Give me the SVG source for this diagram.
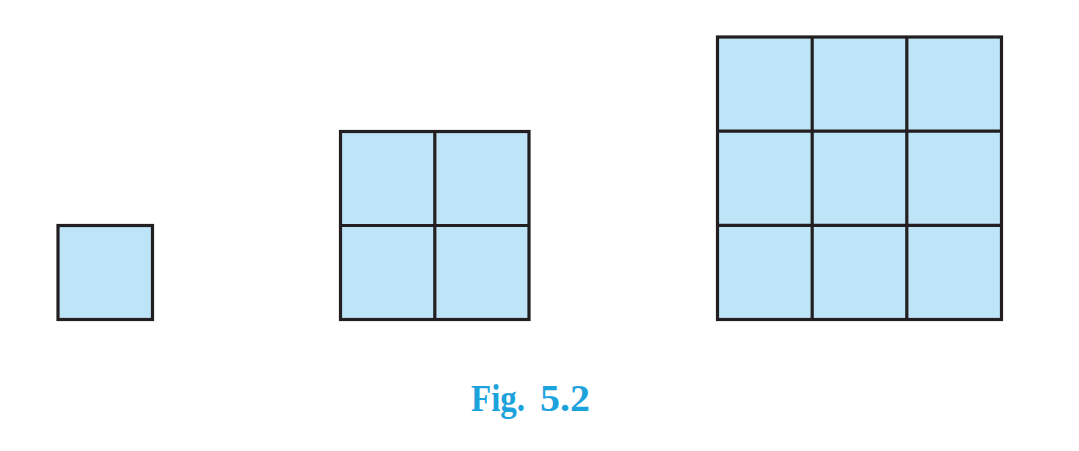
<svg xmlns="http://www.w3.org/2000/svg" width="1079" height="451" viewBox="0 0 1079 451">
<style>
.c{fill:#bee4f8;stroke:#231f20;stroke-width:3.2}
.l{stroke:#231f20;stroke-width:3.2;fill:none}
.cap{font-family:"Liberation Serif",serif;font-weight:bold;font-size:37px;fill:#1ca3dc}
</style>
<rect width="1079" height="451" fill="#ffffff"/>
<g id="square1">
<rect class="c" x="58" y="225.5" width="94.5" height="94"/>
</g>
<g id="square2">
<rect class="c" x="340.5" y="131.5" width="188.5" height="188"/>
<line class="l" x1="434.8" y1="131.5" x2="434.8" y2="319.5"/>
<line class="l" x1="340.5" y1="225.5" x2="529" y2="225.5"/>
</g>
<g id="square3">
<rect class="c" x="717.5" y="37" width="284" height="282.5"/>
<line class="l" x1="812.2" y1="37" x2="812.2" y2="319.5"/>
<line class="l" x1="906.8" y1="37" x2="906.8" y2="319.5"/>
<line class="l" x1="717.5" y1="131.2" x2="1001.5" y2="131.2"/>
<line class="l" x1="717.5" y1="225.3" x2="1001.5" y2="225.3"/>
</g>
<g id="connectors"></g>
<g id="caption">
<text class="cap" x="471" y="411" textLength="54" lengthAdjust="spacingAndGlyphs">Fig.</text>
<text class="cap" x="540" y="411" textLength="50" lengthAdjust="spacingAndGlyphs">5.2</text>
</g>
</svg>
